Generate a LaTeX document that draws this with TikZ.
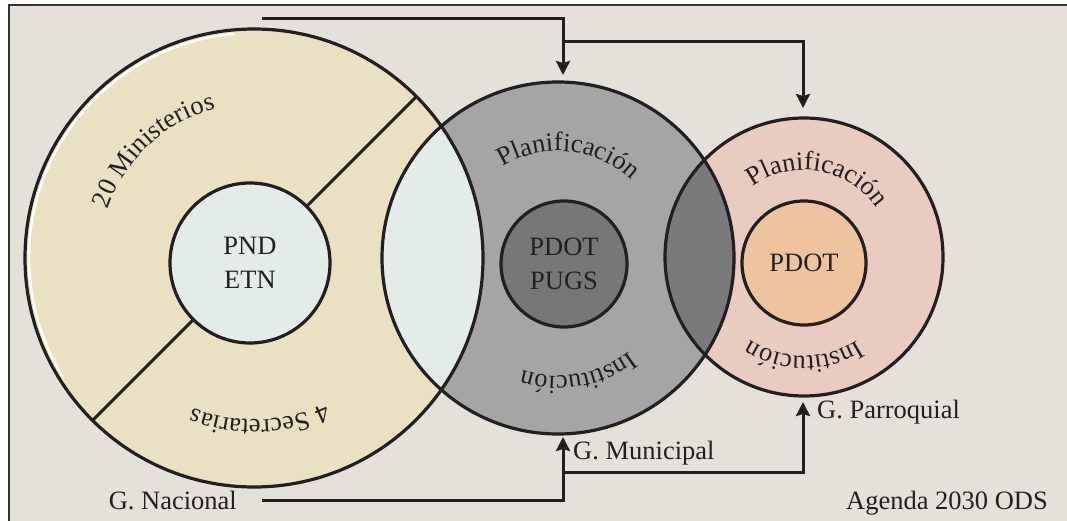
\documentclass[tikz,border=0pt]{standalone}
\usepackage{fontspec}
\setmainfont{Liberation Serif}
\usetikzlibrary{decorations.text,arrows.meta,calc}

\definecolor{bgc}{HTML}{E4E1DB}
\definecolor{framec}{HTML}{333333}
\definecolor{ink}{HTML}{231F20}
\definecolor{nacfill}{HTML}{EAE0C2}
\definecolor{palefill}{HTML}{E3ECE8}
\definecolor{munfill}{HTML}{A5A5A5}
\definecolor{darkfill}{HTML}{777777}
\definecolor{lensfill}{HTML}{7A7A7A}
\definecolor{parfill}{HTML}{EACBC0}
\definecolor{orangefill}{HTML}{EDC49D}

\newcommand{\bigfont}{\fontsize{26.5}{34}\selectfont}

\tikzset{
  outline/.style={circle, draw=ink, line width=3.2pt, inner sep=0pt, outer sep=0pt},
  core/.style={circle, draw=ink, line width=3.2pt, inner sep=0pt, outer sep=0pt,
               align=center, text=ink, font=\bigfont},
  conn/.style={draw=ink, line width=3pt},
  tip/.style={-{Stealth[length=14pt,width=14pt,inset=2pt]}},
  label/.style={inner sep=0pt, text=ink, font=\bigfont},
  arctext/.style={decorate, decoration={text along path, text align=center,
                  text color=ink}},
}

\begin{document}
\begin{tikzpicture}[x=1pt,y=1pt]
\useasboundingbox (0,0) rectangle (1067,520);

% background panel
\begin{scope}
  \clip (0,0) rectangle (1067,520);
  \draw[line width=2pt, draw=framec, fill=bgc] (8.5,514.5) rectangle (1090,-20);
\end{scope}

% ring fills
\fill[nacfill] (254,262) circle[radius=229];
\fill[munfill] (558,262) circle[radius=176];
\fill[parfill] (804,263) circle[radius=139];

% overlaps
\begin{scope}
  \clip (254,262) circle[radius=229];
  \fill[palefill] (558,262) circle[radius=176];
\end{scope}
\begin{scope}
  \clip (558,262) circle[radius=176];
  \fill[lensfill] (804,263) circle[radius=139];
\end{scope}

% divider of the national ring
\begin{scope}
  \clip (254,262) circle[radius=229];
  \draw[conn] ($(250,257)+(45:300)$) -- ($(250,257)+(225:300)$);
\end{scope}

% highlight on the national ring
\draw[white, line width=2.4pt] (254,262) ++(95:225) arc[start angle=95, end angle=212, radius=225];

% ring outlines
\node[outline, minimum size=458pt] (nac) at (254,262) {};
\node[outline, minimum size=352pt] (mun) at (558,262) {};
\node[outline, minimum size=278pt] (par) at (804,263) {};

% cores
\node[core, fill=palefill, minimum size=160pt] (pnd) at (250,257) {PND\\ETN};
\node[core, fill=darkfill, minimum size=126pt] (pugs) at (564,256) {PDOT\\PUGS};
\node[core, fill=orangefill, minimum size=124pt] (pdot) at (804,257) {PDOT};

% curved labels
\path[arctext, decoration={text={|\bigfont|20 Ministerios}}]
  (254,262) ++(173:154) arc[start angle=173, end angle=93, radius=154];
\path[arctext, decoration={text={|\bigfont|4 Secretarias}}]
  (254,262) ++(-50:162) arc[start angle=-50, end angle=-126, radius=162];
\path[arctext, decoration={text={|\bigfont|Planificación}}]
  (558,262) ++(124:107) arc[start angle=124, end angle=44, radius=107];
\path[arctext, decoration={text={|\bigfont|Institución}}]
  (558,262) ++(-40:118) arc[start angle=-40, end angle=-120, radius=118];
\path[arctext, decoration={text={|\bigfont|Planificación}}]
  (804,263) ++(125:87) arc[start angle=125, end angle=35, radius=87];
\path[arctext, decoration={text={|\bigfont|Institución}}]
  (804,263) ++(-40:99) arc[start angle=-40, end angle=-140, radius=99];

% level labels
\node[label, anchor=east] (gnac) at (237,20) {G. Nacional};
\node[label, anchor=west] (gmun) at (573,67) {G. Municipal};
\node[label, anchor=west] (gpar) at (817,108) {G. Parroquial};
\node[label, anchor=east] (agenda) at (1048,17) {Agenda 2030 ODS};

% connectors
\coordinate (ntop) at (262,501);
\coordinate (jt) at (563,478);
\coordinate (jt2) at (803,478);
\coordinate (nbot) at ([xshift=25pt]gnac.east);
\coordinate (jb) at (563,48);
\coordinate (jb2) at (803,48);

\draw[conn, tip] (ntop) -| ([yshift=7pt]mun.north -| jt);
\draw[conn, tip] (jt) -- (jt2) -- ([yshift=10pt]par.north -| jt2);
\draw[conn, tip] (nbot) -| ([yshift=-3pt]mun.south -| jb);
\draw[conn, tip] (jb) -- (jb2) -- ([yshift=-6pt]par.south -| jb2);
\end{tikzpicture}
\end{document}
